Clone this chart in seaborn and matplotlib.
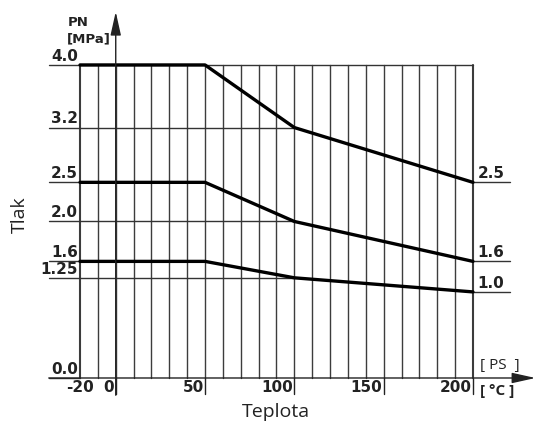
import numpy as np
import pandas as pd
import matplotlib
matplotlib.use('Agg')
import matplotlib.pyplot as plt
import seaborn as sns

# krivky PN (vysky, popisky zvlast)
teplota = [-20, 50, 100, 200]
pn40 = [4.0, 4.0, 3.2, 2.5]
pn25 = [2.5, 2.5, 2.0, 1.49]
pn16 = [1.49, 1.49, 1.28, 1.10]

# popisky osy y vlevo: poloha, text, konec vodorovne cary
tlak_poloha = [0.0, 1.28, 1.49, 2.0, 2.5, 3.2, 4.0]
tlak_popisky = ['0.0', '1.25', '1.6', '2.0', '2.5', '3.2', '4.0']
tlak_konec = [-20, 100, -20, 100, -20, 100, 200]

# popisky vpravo
prave_poloha = [2.5, 1.49, 1.10]
prave_popisky = ['2.5', '1.6', '1.0']

# osa x
x_grid = np.arange(-20, 201, 10)
x_ticks = [-20, 0, 50, 100, 150, 200]

df = pd.DataFrame({
    'Teplota': teplota * 3,
    'Tlak': pn40 + pn25 + pn16,
    'krivka': ['4.0'] * 4 + ['2.5'] * 4 + ['1.6'] * 4,
})

sns.set_style('white')
fig = plt.figure(figsize=(5.36, 4.28), dpi=100)
ax = fig.add_axes([0, 0, 1, 1])
ax.set_xlim(-64.8, 235.3)
ax.set_ylim(-0.639, 4.83)
ax.axis('off')

# svisle cary mrizky
for x in x_grid:
    lw = 1.5 if x in (-20, 200) else 1.0
    ax.plot([x, x], [0, 4.0], color='#3c3c3c', lw=lw, zorder=1)

# znacky pod osou x
for x in x_ticks[1:]:
    ax.plot([x, x], [0, -0.2], color='#222222', lw=1.0, zorder=1)

# vodorovne cary vlevo s popisky
for p, t, k in zip(tlak_poloha, tlak_popisky, tlak_konec):
    ax.plot([-37.5, k], [p, p], color='#333333', lw=1.0, zorder=1)
    ax.text(-21.3, p + 0.015, t, ha='right', va='bottom', fontsize=11,
            fontweight='bold', color='#222222')

# vodorovne cary vpravo s popisky
for p, t in zip(prave_poloha, prave_popisky):
    ax.plot([200, 220.8], [p, p], color='#333333', lw=1.0, zorder=1)
    ax.text(202.5, p + 0.015, t, ha='left', va='bottom', fontsize=11,
            fontweight='bold', color='#222222')

# krivky
sns.lineplot(data=df, x='Teplota', y='Tlak', hue='krivka', units='krivka',
             estimator=None, palette={'4.0': 'black', '2.5': 'black', '1.6': 'black'},
             lw=2.4, legend=False, ax=ax, zorder=3)
ax.set_xlabel('')
ax.set_ylabel('')

# osa x se sipkou
ax.annotate('', xy=(235, 0), xytext=(-37.5, 0),
            arrowprops=dict(arrowstyle='-|>,head_length=0.9,head_width=0.2',
                            color='#222222', lw=1.0,
                            mutation_scale=16, shrinkA=0, shrinkB=0))
# osa y se sipkou
ax.annotate('', xy=(0, 4.68), xytext=(0, -0.22),
            arrowprops=dict(arrowstyle='-|>,head_length=0.9,head_width=0.2',
                            color='#222222', lw=1.0,
                            mutation_scale=16, shrinkA=0, shrinkB=0))

# popisky osy x
for x in x_ticks:
    if x == -20:
        ax.text(x, -0.025, str(x), ha='center', va='top', fontsize=11,
                fontweight='bold', color='#222222')
    else:
        ax.text(x - 0.8, -0.025, str(x), ha='right', va='top', fontsize=11,
                fontweight='bold', color='#222222')

fig.text(0.515, 0.037, 'Teplota', ha='center', va='center', fontsize=14,
         family='Open Sans', color='#222222')
fig.text(0.037, 0.498, 'Tlak', ha='center', va='center', fontsize=14,
         family='Open Sans', rotation=90, color='#222222')
fig.text(0.127, 1 - 22 / 428, 'PN', ha='left', va='center', fontsize=9.5,
         fontweight='bold', color='#222222')
fig.text(0.124, 1 - 39 / 428, '[MPa]', ha='left', va='center', fontsize=9.5,
         fontweight='bold', color='#222222')
fig.text(0.895, 1 - 366 / 428, '[ PS  ]', ha='left', va='center', fontsize=11,
         family='Open Sans', color='#222222')
fig.text(0.895, 1 - 391 / 428, '[ °C ]', ha='left', va='center', fontsize=11,
         fontweight='bold', family='Open Sans', color='#222222')

fig.savefig('out.png', dpi=100)
